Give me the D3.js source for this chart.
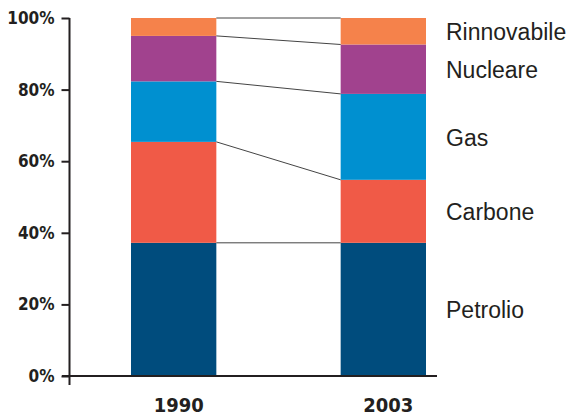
<!DOCTYPE html>
<html><head><meta charset="utf-8">
<script src="https://cdn.jsdelivr.net/npm/d3@7"></script>
<style>
html,body{margin:0;padding:0;background:#fff;}
svg{display:block;}
</style>
</head><body>
<svg id="chart" width="571" height="416"></svg>
<script>
const years = ["1990", "2003"];
const sources = ["Petrolio", "Carbone", "Gas", "Nucleare", "Rinnovabile"];
const values1990 = [37.2, 28.2, 16.9, 12.7, 5.0];
const values2003 = [37.2, 17.6, 24.0, 13.8, 7.4];
const colors = ["#004c7d", "#f05a47", "#0090d0", "#a1428e", "#f5824b"];
const tickValues = [0, 20, 40, 60, 80, 100];

const svg = d3.select("#chart");
const ink = "#231f20";

const y = d3.scaleLinear().domain([0, 100]).range([376, 18]);
const x = d3.scaleBand().domain(years).range([131, 426]).paddingInner(0.593).paddingOuter(0);

const rows = years.map((yr, i) => {
  const vals = i === 0 ? values1990 : values2003;
  const obj = {year: yr};
  sources.forEach((s, j) => obj[s] = vals[j]);
  return obj;
});
const stacked = d3.stack().keys(sources)(rows);

// bars
stacked.forEach((layer, j) => {
  svg.selectAll(null).data(layer).enter().append("rect")
    .attr("x", d => x(d.data.year))
    .attr("width", x.bandwidth())
    .attr("y", d => y(d[1]))
    .attr("height", d => y(d[0]) - y(d[1]))
    .attr("fill", colors[j]);
});

// connector lines
const conn = svg.append("g").attr("stroke", "#444").attr("stroke-width", 1);
stacked.forEach(layer => {
  conn.append("line")
    .attr("x1", x(years[0]) + x.bandwidth())
    .attr("x2", x(years[1]))
    .attr("y1", y(layer[0][1]))
    .attr("y2", y(layer[1][1]));
});

// y axis
const yAxis = d3.axisLeft(y).tickValues(tickValues).tickSize(8).tickPadding(7)
  .tickFormat(d => d + "%");
const gy = svg.append("g").attr("transform", "translate(69.5,0)").call(yAxis);
gy.select(".domain").remove();
gy.selectAll(".tick line").attr("stroke", ink).attr("stroke-width", 2);
gy.selectAll(".tick text")
  .attr("fill", ink)
  .style("font-family", "'DejaVu Sans Condensed', 'DejaVu Sans', sans-serif")
  .style("font-stretch", "condensed")
  .style("font-weight", "bold")
  .style("font-size", "17px");

svg.append("line").attr("x1", 69.5).attr("x2", 69.5).attr("y1", 18).attr("y2", 385)
  .attr("stroke", ink).attr("stroke-width", 2);
svg.append("line").attr("x1", 62).attr("x2", 437).attr("y1", y(0)).attr("y2", y(0))
  .attr("stroke", ink).attr("stroke-width", 2);

// year labels
svg.selectAll(null).data(years).enter().append("text")
  .attr("x", d => x(d) + x.bandwidth() / 2 + 5)
  .attr("y", 412)
  .attr("text-anchor", "middle")
  .attr("fill", ink)
  .style("font-family", "'DejaVu Sans Condensed', 'DejaVu Sans', sans-serif")
  .style("font-stretch", "condensed")
  .style("font-weight", "bold")
  .style("font-size", "20px")
  .text(d => d);

// right labels
const last = stacked.map(layer => layer[1]);
svg.selectAll(null).data(sources).enter().append("text")
  .attr("x", 446)
  .attr("y", (d, j) => (y(last[j][0]) + y(last[j][1])) / 2)
  .attr("dy", "0.38em")
  .attr("fill", ink)
  .style("font-family", "'Liberation Sans', Arial, sans-serif")
  .style("font-size", "23px")
  .text(d => d);
</script>
</body></html>
